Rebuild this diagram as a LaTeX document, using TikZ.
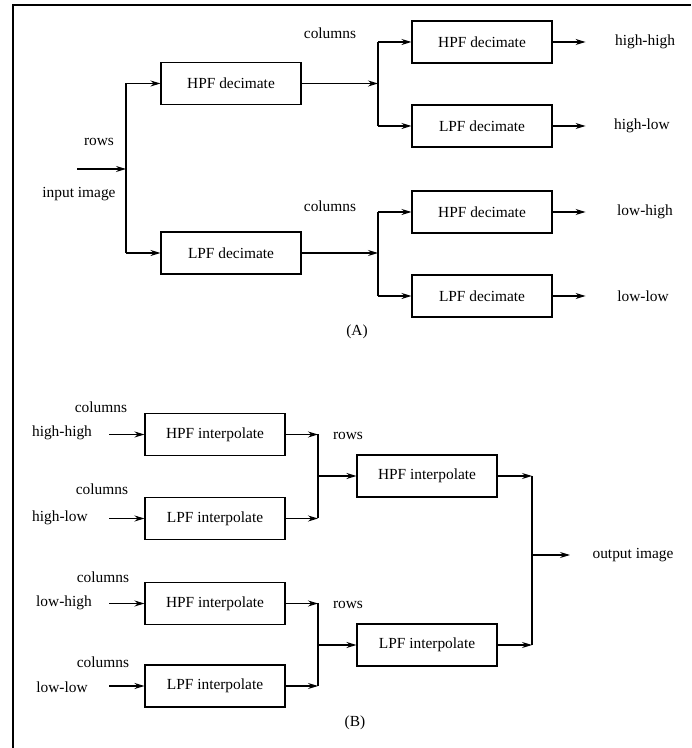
\documentclass[tikz,border=0pt]{standalone}
\usepackage{fontspec}
\setmainfont{Liberation Serif}
\usetikzlibrary{arrows.meta}
\begin{document}
\begin{tikzpicture}[x=0.5pt,y=0.5pt,font=\fontsize{7.7}{9}\selectfont,line width=0.55pt]
            \tikzset{
                filt/.style={draw, minimum width=70pt, minimum height=21pt, inner sep=0pt},
                sig/.style={-{Stealth[length=5pt,width=3pt]}},}
            \useasboundingbox (0,0) rectangle (691,748);
            \draw (13,0) -- (13,743) -- (691,743);
            % (A)
            \node[filt] (hpfR) at (231,664.5) {HPF decimate};
            \node[filt] (lpfR) at (231,495) {LPF decimate};
            \node[filt] (hpfHH) at (482,706) {HPF decimate};
            \node[filt] (lpfHL) at (482,622) {LPF decimate};
            \node[filt] (hpfLH) at (482,536) {HPF decimate};
            \node[filt] (lpfLL) at (482,452) {LPF decimate};
            \node (rowsA) at (99,606) {rows};
            \node (inA) at (79,554) {input image};
            \node (colHA) at (330,715) {columns};
            \node (colLA) at (330,542) {columns};
            \node (hh) at (645,706) {high-high};
            \node (hl) at (642,622) {high-low};
            \node (lh) at (645,536) {low-high};
            \node (ll) at (643,452) {low-low};
            \node (capA) at (357,416) {(A)};
            \coordinate (src) at (77,579);
            \coordinate (jIn) at (126,579);
            \coordinate (jH) at (378,664.5);
            \coordinate (jL) at (378,495);
            \draw[sig] (src) -- (jIn);
            \draw (jIn |- hpfR) -- (jIn |- lpfR);
            \draw[sig] (jIn |- hpfR) -- (hpfR);
            \draw[sig] (jIn |- lpfR) -- (lpfR);
            \draw[sig] (hpfR) -- (jH);
            \draw[sig] (lpfR) -- (jL);
            \draw (jH |- hpfHH) -- (jH |- lpfHL);
            \draw (jL |- hpfLH) -- (jL |- lpfLL);
            \foreach \f in {hpfHH,lpfHL,hpfLH,lpfLL}{
                \draw[sig] (jH |- \f) -- (\f);
                \draw[sig] (\f.east) -- ++(33,0);
            }
            % (B)
            \node[filt] (hpiHH) at (215,313.5) {HPF interpolate};
            \node[filt] (lpiHL) at (215,229.5) {LPF interpolate};
            \node[filt] (hpiLH) at (215,144.5) {HPF interpolate};
            \node[filt] (lpiLL) at (215,62) {LPF interpolate};
            \node[filt] (hpiR) at (427,272) {HPF interpolate};
            \node[filt] (lpiR) at (427,103) {LPF interpolate};
            \node (inHH) at (62,315) {high-high};
            \node (inHL) at (60,230) {high-low};
            \node (inLH) at (64,145) {low-high};
            \node (inLL) at (62,61) {low-low};
            \node (colHH) at (101,341) {columns};
            \node (colHL) at (102,259) {columns};
            \node (colLH) at (103,171) {columns};
            \node (colLL) at (103,86) {columns};
            \node (rowsH) at (348,312) {rows};
            \node (rowsL) at (348,143) {rows};
            \node (out) at (633,193) {output image};
            \node (capB) at (355,25) {(B)};
            \coordinate (jHB) at (318,272);
            \coordinate (jLB) at (318,103);
            \coordinate (jOut) at (532,193);
            \foreach \f in {hpiHH,lpiHL,hpiLH,lpiLL}{
                \draw[sig] (\f.west) ++(-35,0) -- (\f);
            }
            \draw[sig] (hpiHH) -- (jHB |- hpiHH);
            \draw[sig] (lpiHL) -- (jHB |- lpiHL);
            \draw (jHB |- hpiHH) -- (jHB |- lpiHL);
            \draw[sig] (jHB) -- (hpiR);
            \draw[sig] (hpiLH) -- (jLB |- hpiLH);
            \draw[sig] (lpiLL) -- (jLB |- lpiLL);
            \draw (jLB |- hpiLH) -- (jLB |- lpiLL);
            \draw[sig] (jLB) -- (lpiR);
            \draw[sig] (hpiR) -- (jOut |- hpiR);
            \draw[sig] (lpiR) -- (jOut |- lpiR);
            \draw (jOut |- hpiR) -- (jOut |- lpiR);
            \draw[sig] (jOut) -- ++(38,0);
        \end{tikzpicture}
\end{document}
